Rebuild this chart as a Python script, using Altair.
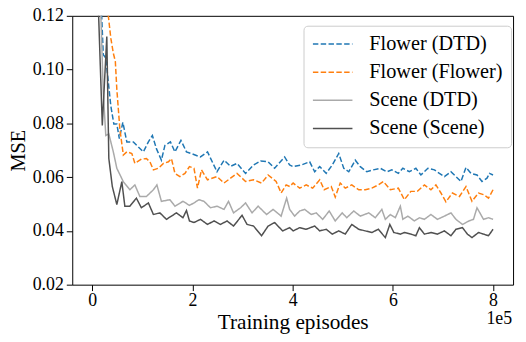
import altair as alt
import pandas as pd

SERIES = ["Flower (DTD)", "Flower (Flower)", "Scene (DTD)", "Scene (Scene)"]
COLORS = ["#1f77b4", "#ff7f0e", "#aaaaaa", "#505050"]
DASHES = [[5.5, 2.4], [5.5, 2.4], [1, 0], [1, 0]]

X_TICKS = [0, 2, 4, 6, 8]
Y_TICKS = [0.02, 0.04, 0.06, 0.08, 0.10, 0.12]

# Flower (DTD)
fd_x = [0.0, 0.12, 0.22, 0.27, 0.37, 0.43, 0.49, 0.54, 0.61, 0.69, 0.82, 0.92, 1.02, 1.12, 1.20, 1.28,
        1.38, 1.45, 1.56, 1.65, 1.77, 1.88, 1.97, 2.16, 2.30, 2.49, 2.63, 2.76, 2.89, 3.06, 3.22, 3.36,
        3.51, 3.64, 3.84, 3.94, 4.01, 4.17, 4.34, 4.44, 4.54, 4.67, 4.79, 4.92, 5.02, 5.12, 5.25, 5.35,
        5.48, 5.61, 5.75, 5.88, 5.98, 6.11, 6.20, 6.33, 6.46, 6.56, 6.70, 6.83, 6.93, 7.03, 7.16, 7.26,
        7.36, 7.46, 7.56, 7.68, 7.78, 7.88, 7.93, 8.0]
fd_y = [0.26, 0.15, 0.1055, 0.1043, 0.0865, 0.0798, 0.0798, 0.0743, 0.0804, 0.0731, 0.0731, 0.0712, 0.0694,
        0.0731, 0.0755, 0.0706, 0.0663, 0.0718, 0.0731, 0.0694, 0.0737, 0.0694, 0.0688, 0.0675, 0.0694,
        0.0620, 0.0663, 0.0640, 0.0651, 0.0614, 0.0645, 0.0660, 0.0657, 0.0633, 0.0675, 0.0645, 0.0639,
        0.0645, 0.0657, 0.0620, 0.0639, 0.0614, 0.0645, 0.0688, 0.0633, 0.0620, 0.0663, 0.0639, 0.0620,
        0.0627, 0.0633, 0.0620, 0.0627, 0.0614, 0.0633, 0.0620, 0.0633, 0.0608, 0.0633, 0.0627, 0.0614,
        0.0602, 0.0620, 0.0602, 0.0584, 0.0636, 0.0614, 0.0608, 0.0584, 0.0596, 0.0614, 0.0608]

# Flower (Flower)
ff_x = [0.0, 0.15, 0.29, 0.37, 0.42, 0.46, 0.49, 0.55, 0.62, 0.69, 0.79, 0.85, 0.98, 1.08, 1.15, 1.22,
        1.32, 1.42, 1.52, 1.58, 1.65, 1.75, 1.85, 1.94, 2.03, 2.10, 2.18, 2.30, 2.49, 2.63, 2.76, 2.89,
        3.06, 3.22, 3.38, 3.51, 3.67, 3.77, 3.87, 3.94, 4.01, 4.14, 4.27, 4.40, 4.54, 4.63, 4.77, 4.85,
        4.95, 5.05, 5.18, 5.32, 5.45, 5.58, 5.71, 5.81, 5.95, 6.11, 6.23, 6.36, 6.49, 6.63, 6.76, 6.86,
        6.96, 7.06, 7.19, 7.33, 7.46, 7.58, 7.71, 7.81, 7.91, 8.0]
ff_y = [0.28, 0.20, 0.125, 0.1117, 0.1061, 0.1031, 0.0927, 0.0780, 0.0682, 0.0694, 0.0688, 0.0651, 0.0667,
        0.0669, 0.0657, 0.0627, 0.0633, 0.0651, 0.0657, 0.0669, 0.0614, 0.0602, 0.0614, 0.0639, 0.0633,
        0.0559, 0.0627, 0.0590, 0.0602, 0.0578, 0.0596, 0.0614, 0.0584, 0.0590, 0.0578, 0.0608, 0.0584,
        0.0541, 0.0571, 0.0565, 0.0578, 0.0559, 0.0571, 0.0559, 0.0590, 0.0553, 0.0565, 0.0526, 0.0578,
        0.0559, 0.0571, 0.0553, 0.0553, 0.0559, 0.0571, 0.0584, 0.0553, 0.0559, 0.0516, 0.0547, 0.0547,
        0.0571, 0.0553, 0.0571, 0.0541, 0.0508, 0.0541, 0.0528, 0.0565, 0.0510, 0.0541, 0.0535, 0.0522,
        0.0553]

# Scene (DTD)
sd_x = [0.0, 0.12, 0.22, 0.27, 0.33, 0.42, 0.49, 0.62, 0.75, 0.85, 0.95, 1.08, 1.22, 1.29, 1.38, 1.55,
        1.65, 1.81, 1.94, 2.03, 2.13, 2.23, 2.36, 2.49, 2.63, 2.72, 2.82, 2.96, 3.06, 3.19, 3.31, 3.48,
        3.61, 3.77, 3.88, 3.94, 4.04, 4.14, 4.24, 4.37, 4.47, 4.60, 4.73, 4.85, 4.99, 5.08, 5.22, 5.35,
        5.52, 5.65, 5.78, 5.85, 5.95, 6.05, 6.15, 6.20, 6.30, 6.43, 6.53, 6.63, 6.76, 6.89, 7.03, 7.16,
        7.26, 7.39, 7.52, 7.61, 7.68, 7.81, 7.91, 8.0]
sd_y = [0.26, 0.15, 0.0914, 0.0755, 0.0761, 0.0694, 0.0633, 0.0583, 0.0553, 0.0571, 0.0528, 0.0528, 0.0553,
        0.0571, 0.0510, 0.0516, 0.0492, 0.0510, 0.0495, 0.0504, 0.0516, 0.0510, 0.0486, 0.0492, 0.0480,
        0.0510, 0.0467, 0.0486, 0.0504, 0.0467, 0.0492, 0.0461, 0.0480, 0.0455, 0.0522, 0.0480, 0.0455,
        0.0474, 0.0480, 0.0461, 0.0467, 0.0443, 0.0474, 0.0437, 0.0467, 0.0449, 0.0474, 0.0455, 0.0467,
        0.0449, 0.0480, 0.0443, 0.0461, 0.0449, 0.0492, 0.0443, 0.0455, 0.0437, 0.0449, 0.0443, 0.0461,
        0.0443, 0.0455, 0.0467, 0.0443, 0.0424, 0.0437, 0.0443, 0.0486, 0.0443, 0.0449, 0.0443]

# Scene (Scene)
ss_x = [0.0, 0.10, 0.20, 0.29, 0.33, 0.40, 0.49, 0.59, 0.65, 0.75, 0.88, 0.98, 1.12, 1.22, 1.35, 1.48,
        1.68, 1.81, 1.88, 1.94, 2.03, 2.16, 2.30, 2.43, 2.56, 2.69, 2.82, 2.99, 3.09, 3.22, 3.38, 3.51,
        3.64, 3.80, 3.94, 4.01, 4.14, 4.27, 4.44, 4.54, 4.67, 4.79, 4.92, 5.05, 5.18, 5.32, 5.45, 5.58,
        5.71, 5.85, 5.94, 6.02, 6.15, 6.23, 6.36, 6.46, 6.53, 6.63, 6.76, 6.89, 7.03, 7.16, 7.26, 7.39,
        7.49, 7.58, 7.71, 7.81, 7.91, 8.0]
ss_y = [0.26, 0.135, 0.0792, 0.1123, 0.0670, 0.0565, 0.0498, 0.0583, 0.0492, 0.0492, 0.0522, 0.0486, 0.0504,
        0.0461, 0.0467, 0.0443, 0.0467, 0.0449, 0.0476, 0.0437, 0.0431, 0.0443, 0.0424, 0.0437, 0.0424,
        0.0437, 0.0418, 0.0458, 0.0424, 0.0418, 0.0382, 0.0418, 0.0431, 0.0400, 0.0412, 0.0400, 0.0412,
        0.0406, 0.0418, 0.0400, 0.0406, 0.0388, 0.0400, 0.0388, 0.0424, 0.0406, 0.0400, 0.0394, 0.0406,
        0.0375, 0.0424, 0.0394, 0.0388, 0.0394, 0.0388, 0.0382, 0.0412, 0.0388, 0.0394, 0.0388, 0.0400,
        0.0382, 0.0406, 0.0412, 0.0388, 0.0375, 0.0394, 0.0388, 0.0382, 0.0406]

rows = []
for name, xs, ys in [(SERIES[0], fd_x, fd_y), (SERIES[1], ff_x, ff_y),
                     (SERIES[2], sd_x, sd_y), (SERIES[3], ss_x, ss_y)]:
    for i, (xv, yv) in enumerate(zip(xs, ys)):
        rows.append({"series": name, "x": xv, "y": yv, "order": i})
df = pd.DataFrame(rows)

FONT = "Liberation Serif"
W, H = 446, 272

legend = alt.Legend(
    title=None, orient="none", legendX=234, legendY=10,
    symbolType="stroke", symbolSize=1600, symbolStrokeWidth=1.5,
    labelFont=FONT, labelFontSize=20.5, labelColor="black", labelOffset=16,
    rowPadding=7.5, clipHeight=20, padding=8.5,
    strokeColor="#cccccc", fillColor="rgba(255,255,255,0.8)", cornerRadius=4,
)

lines = alt.Chart(df).mark_line(strokeWidth=1.5, clip=True).encode(
    x=alt.X("x:Q", scale=alt.Scale(domain=[-0.4, 8.4], nice=False, zero=False),
            axis=alt.Axis(values=X_TICKS, format="d", title="Training episodes",
                          tickSize=6, labelPadding=1, titlePadding=2, titleFontSize=21.5)),
    y=alt.Y("y:Q", scale=alt.Scale(domain=[0.02, 0.12], nice=False, zero=False),
            axis=alt.Axis(values=Y_TICKS, format=".2f", title="MSE",
                          tickSize=6, labelPadding=3, titlePadding=4, titleFontSize=20.5)),
    color=alt.Color("series:N", scale=alt.Scale(domain=SERIES, range=COLORS), legend=legend),
    strokeDash=alt.StrokeDash("series:N", scale=alt.Scale(domain=SERIES, range=DASHES), legend=legend),
    order="order:Q",
)

offset = alt.Chart(pd.DataFrame({"t": ["1e5"]})).mark_text(
    font=FONT, fontSize=18, align="right", baseline="alphabetic", color="black"
).encode(text="t:N", x=alt.value(445), y=alt.value(312))

chart = alt.layer(lines, offset).properties(
    width=W, height=H,
    background="white",
    autosize=alt.AutoSizeParams(type="none"),
    padding={"left": 65, "top": 6, "right": 5, "bottom": 48},
).configure_view(
    stroke="black", strokeWidth=1
).configure_axis(
    domain=False, grid=False, ticks=True, tickColor="black", tickWidth=1,
    labelFont=FONT, labelFontSize=18, labelColor="black",
    titleFont=FONT, titleColor="black", titleFontWeight="normal",
)

chart.save("out.html", embed_options={"renderer": "svg", "actions": False})
